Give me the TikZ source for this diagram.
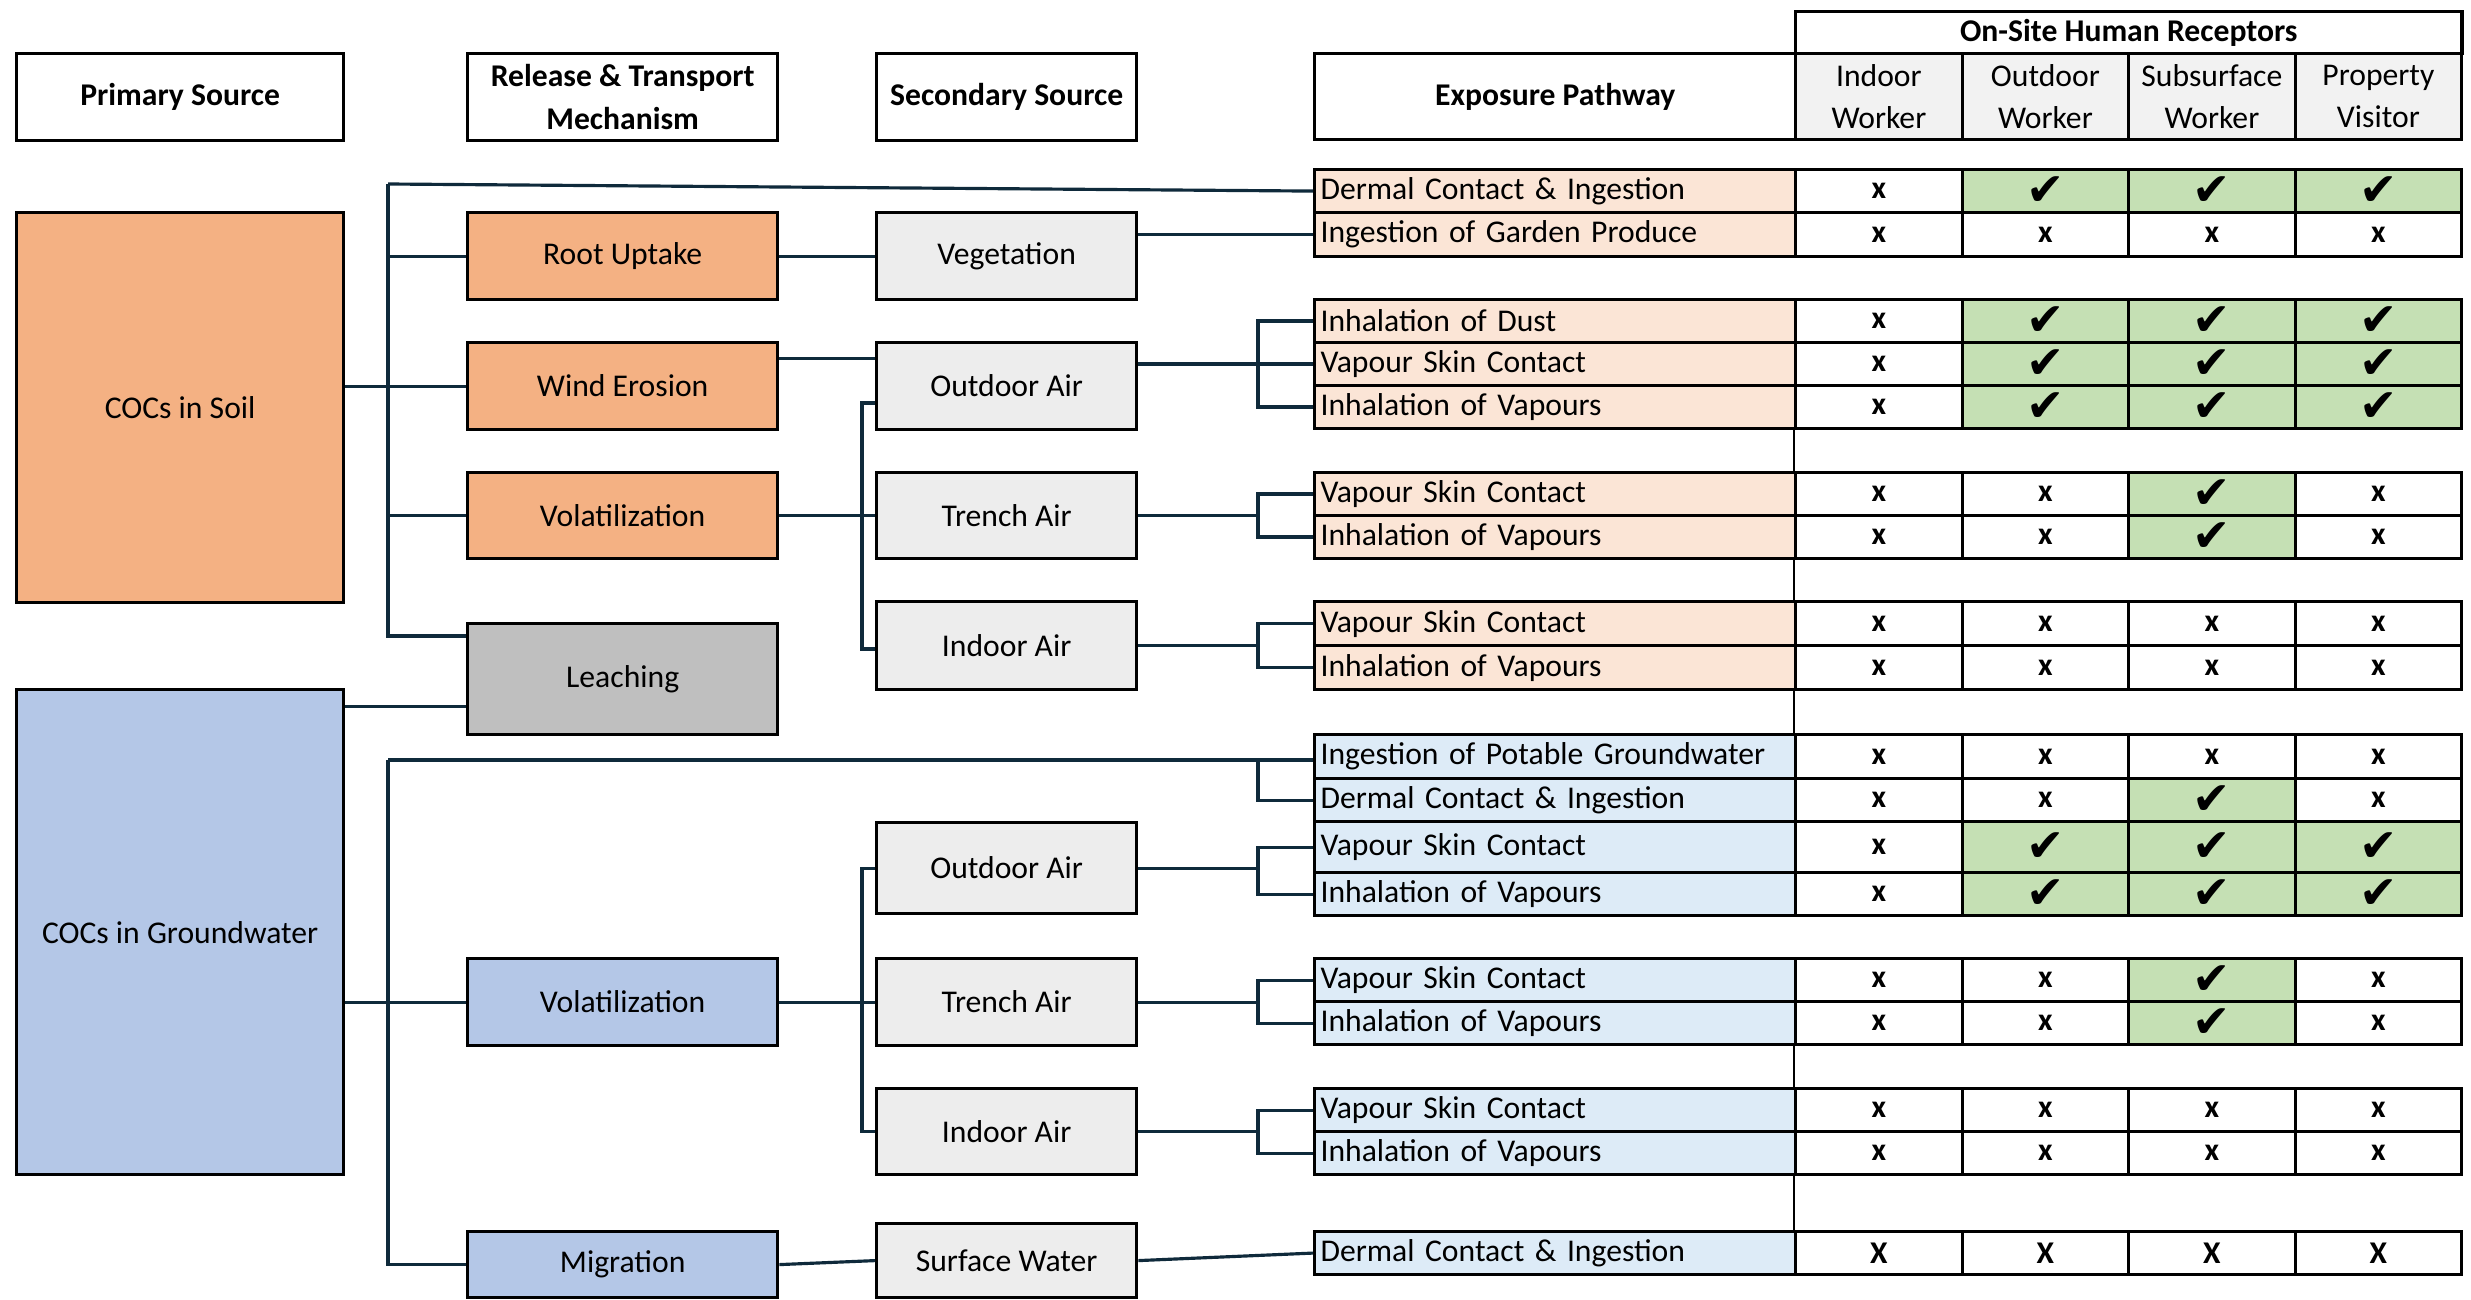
\documentclass[tikz,border=0pt]{standalone}
\usepackage{fontspec}
\setmainfont{Carlito}
\newfontfamily\chkfont{DejaVu Sans}
\usetikzlibrary{calc}

\definecolor{linkc}{HTML}{0F2A3B}
\definecolor{soilfill}{HTML}{F4B183}
\definecolor{gwfill}{HTML}{B4C7E7}
\definecolor{leachfill}{HTML}{BFBFBF}
\definecolor{secfill}{HTML}{EDEDED}
\definecolor{hdrgrey}{HTML}{F2F2F2}
\definecolor{soilrow}{HTML}{FBE5D6}
\definecolor{gwrow}{HTML}{DDEBF7}
\definecolor{markbgv}{HTML}{C5E0B4}
\definecolor{markbgx}{HTML}{FFFFFF}
\definecolor{markbgX}{HTML}{FFFFFF}

\newcommand{\symx}{\textbf{x}}
\newcommand{\symX}{\textbf{X}}
\newcommand{\symv}{{\chkfont\fontsize{13}{13}\selectfont ✔}}

\tikzset{
  base/.style={draw, line width=0.9pt, inner sep=0pt, anchor=north west, align=center,
    font=\fontsize{9}{12}\selectfont},
  hdr/.style={base, fill=white, font=\fontsize{9}{12}\selectfont\bfseries},
  soilbox/.style={base, fill=soilfill},
  gwbox/.style={base, fill=gwfill},
  secbox/.style={base, fill=secfill},
  pathcell/.style={base, align=left, text width=4.69cm, inner xsep=0.06cm},
  markcell/.style={base, minimum width=1.665cm},
  link/.style={draw=linkc, line width=0.9pt},
  gapline/.style={draw, line width=0.6pt}
}

\begin{document}
\begin{tikzpicture}[x=0.01cm, y=-0.01cm]
\useasboundingbox (0,0) rectangle (2471,1300);

% headers
\node[hdr, minimum width=3.27cm, minimum height=0.87cm] (hprim) at (15,52) {Primary Source};
\node[hdr, minimum width=3.10cm, minimum height=0.87cm] (hrel) at (466,52) {Release \& Transport\\Mechanism};
\node[hdr, minimum width=2.60cm, minimum height=0.87cm] (hsec) at (875,52) {Secondary Source};
\node[hdr, minimum width=4.81cm, minimum height=0.86cm] (hexp) at (1313,52) {Exposure Pathway};
\node[hdr, minimum width=6.66cm, minimum height=0.42cm] (hrec) at (1794,10) {On-Site Human Receptors};
\foreach \k/\txt in {1/{Indoor\\Worker}, 2/{Outdoor\\Worker}, 3/{Subsurface\\Worker}, 4/{Property\\Visitor}}
  \node[markcell, fill=hdrgrey, minimum height=0.86cm] (hr\k) at ({1794+166.5*(\k-1)},52) {\txt};

% primary sources
\node[soilbox, minimum width=3.27cm, minimum height=3.90cm] (soil) at (15,211) {COCs in Soil};
\node[gwbox, minimum width=3.27cm, minimum height=4.85cm] (gw) at (15,688) {COCs in Groundwater};

% release & transport
\node[soilbox, minimum width=3.10cm, minimum height=0.87cm] (root) at (466,211) {Root Uptake};
\node[soilbox, minimum width=3.10cm, minimum height=0.87cm] (wind) at (466,341) {Wind Erosion};
\node[soilbox, minimum width=3.10cm, minimum height=0.86cm] (volS) at (466,471) {Volatilization};
\node[base, fill=leachfill, minimum width=3.10cm, minimum height=1.11cm] (leach) at (466,622) {Leaching};
\node[gwbox, minimum width=3.10cm, minimum height=0.87cm] (volG) at (466,957) {Volatilization};
\node[gwbox, minimum width=3.10cm, minimum height=0.66cm] (migr) at (466,1230) {Migration};

% secondary sources
\node[secbox, minimum width=2.60cm, minimum height=0.87cm] (veg) at (875,211) {Vegetation};
\node[secbox, minimum width=2.60cm, minimum height=0.87cm] (outS) at (875,341) {Outdoor Air};
\node[secbox, minimum width=2.60cm, minimum height=0.86cm] (trenchS) at (875,471) {Trench Air};
\node[secbox, minimum width=2.60cm, minimum height=0.88cm] (indoorS) at (875,600) {Indoor Air};
\node[secbox, minimum width=2.60cm, minimum height=0.91cm] (outG) at (875,821) {Outdoor Air};
\node[secbox, minimum width=2.60cm, minimum height=0.87cm] (trenchG) at (875,957) {Trench Air};
\node[secbox, minimum width=2.60cm, minimum height=0.86cm] (indoorG) at (875,1087) {Indoor Air};
\node[secbox, minimum width=2.60cm, minimum height=0.74cm] (surf) at (875,1222) {Surface Water};

% exposure pathways and receptors
\foreach \nm/\yt/\rh/\fl/\txt/\ma/\mb/\mc/\md in {
  sDerm/168/43/soilrow/{Dermal Contact \& Ingestion}/x/v/v/v,
  sGarden/211/44/soilrow/{Ingestion of Garden Produce}/x/x/x/x,
  sDust/298/43/soilrow/{Inhalation of Dust}/x/v/v/v,
  sVskin/341/43/soilrow/{Vapour Skin Contact}/x/v/v/v,
  sVinh/384/43/soilrow/{Inhalation of Vapours}/x/v/v/v,
  tVskin/471/43/soilrow/{Vapour Skin Contact}/x/x/v/x,
  tVinh/514/43/soilrow/{Inhalation of Vapours}/x/x/v/x,
  iVskin/600/44/soilrow/{Vapour Skin Contact}/x/x/x/x,
  iVinh/644/44/soilrow/{Inhalation of Vapours}/x/x/x/x,
  gPot/733/44/gwrow/{Ingestion of Potable Groundwater}/x/x/x/x,
  gDerm/777/43/gwrow/{Dermal Contact \& Ingestion}/x/x/v/x,
  gVskin/820/51/gwrow/{Vapour Skin Contact}/x/v/v/v,
  gVinh/871/43/gwrow/{Inhalation of Vapours}/x/v/v/v,
  gtVskin/957/43/gwrow/{Vapour Skin Contact}/x/x/v/x,
  gtVinh/1000/43/gwrow/{Inhalation of Vapours}/x/x/v/x,
  giVskin/1087/43/gwrow/{Vapour Skin Contact}/x/x/x/x,
  giVinh/1130/43/gwrow/{Inhalation of Vapours}/x/x/x/x,
  gSurf/1230/43/gwrow/{Dermal Contact \& Ingestion}/X/X/X/X}{
  \node[pathcell, fill=\fl, minimum height=\rh*0.01cm] (\nm) at (1313,\yt) {\txt};
  \foreach \m [count=\k] in {\ma,\mb,\mc,\md}
    \node[markcell, fill=markbg\m, minimum height=\rh*0.01cm] (\nm-\k) at ({1794+166.5*(\k-1)},\yt) {\csname sym\m\endcsname};
}

% table rule through the gaps
\draw[gapline] (sVinh-1.south west) -- (tVskin-1.north west);
\draw[gapline] (tVinh-1.south west) -- (iVskin-1.north west);
\draw[gapline] (iVinh-1.south west) -- (gPot-1.north west);
\draw[gapline] (gtVinh-1.south west) -- (giVskin-1.north west);
\draw[gapline] (giVinh-1.south west) -- (gSurf-1.north west);

% soil branches
\coordinate (sT1) at (388,184);
\coordinate (sT2) at (388,636);
\coordinate (bx) at (1258,0);
\draw[link] (sT1) -- (sDerm.west);
\draw[link] (sT1) -- (sT2) -- (sT2 -| leach.west);
\draw[link] (sT1 |- root.west) -- (root.west);
\draw[link] (sT1 |- volS.west) -- (volS.west);
\draw[link] (soil.east |- wind.west) -- (wind.west);
\draw[link] (root.east) -- (veg.west);
\draw[link] (veg.east |- sGarden.west) -- (sGarden.west);
\draw[link] ([yshift=0.28cm]wind.east) -- ([yshift=0.28cm]outS.west);
\draw[link] (volS.east) -- (trenchS.west);
\coordinate (aS1) at (862,403);
\coordinate (aS2) at (862,649);
\draw[link] (aS1 -| outS.west) -- (aS1) -- (aS2) -- (aS2 -| indoorS.west);
\draw[link] (outS.east |- sVskin.west) -- (sVskin.west);
\draw[link] (sDust.west) -- (sDust.west -| bx) -- (sVinh.west -| bx) -- (sVinh.west);
\draw[link] (trenchS.east) -- (trenchS.east -| bx);
\draw[link] (tVskin.west) -- (tVskin.west -| bx) -- (tVinh.west -| bx) -- (tVinh.west);
\draw[link] (indoorS.east) -- (indoorS.east -| bx);
\draw[link] (iVskin.west) -- (iVskin.west -| bx) -- (iVinh.west -| bx) -- (iVinh.west);

% groundwater branches
\coordinate (gT1) at (388,760);
\coordinate (lg) at ([yshift=-0.27cm]leach.west);
\coordinate (aG) at (862,0);
\draw[link] (lg -| gw.east) -- (lg);
\draw[link] (gT1) -- (gT1 -| gPot.west);
\draw[link] (gT1 -| bx) -- (gDerm.west -| bx) -- (gDerm.west);
\draw[link] (gT1) |- (migr.west);
\draw[link] (gw.east |- volG.west) -- (volG.west);
\draw[link] (volG.east) -- (trenchG.west);
\draw[link] (outG.west) -- (outG.west -| aG) |- (indoorG.west);
\draw[link] (migr.east) -- (surf.west);
\draw[link] (surf.east) -- (gSurf.west);
\draw[link] (outG.east) -- (outG.east -| bx);
\draw[link] (gVskin.west) -- (gVskin.west -| bx) -- (gVinh.west -| bx) -- (gVinh.west);
\draw[link] (trenchG.east) -- (trenchG.east -| bx);
\draw[link] (gtVskin.west) -- (gtVskin.west -| bx) -- (gtVinh.west -| bx) -- (gtVinh.west);
\draw[link] (indoorG.east) -- (indoorG.east -| bx);
\draw[link] (giVskin.west) -- (giVskin.west -| bx) -- (giVinh.west -| bx) -- (giVinh.west);
\end{tikzpicture}
\end{document}
